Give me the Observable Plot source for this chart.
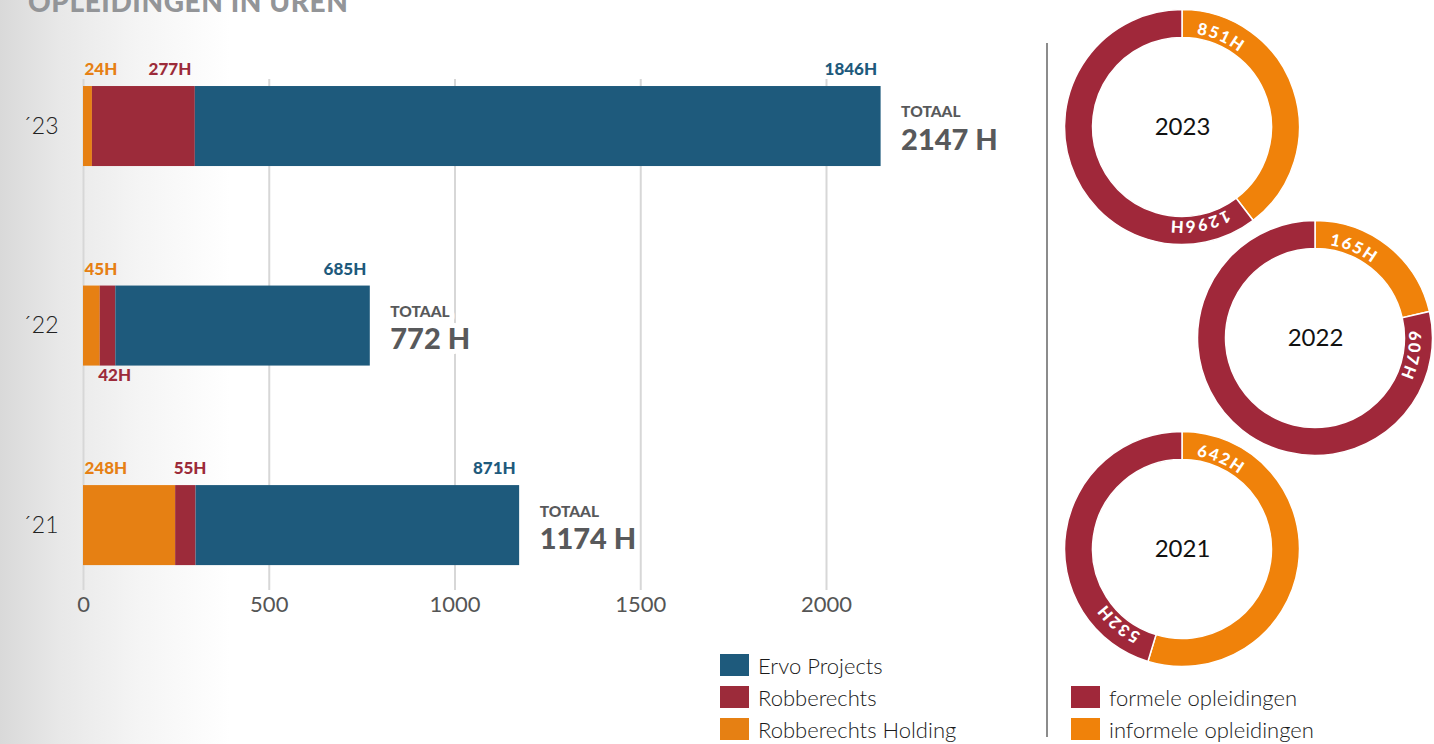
<!DOCTYPE html>
<html>
<head>
<meta charset="utf-8">
<script src="https://cdn.jsdelivr.net/npm/d3@7"></script>
<script src="https://cdn.jsdelivr.net/npm/@observablehq/plot@0.6"></script>
<style>
html, body { margin: 0; padding: 0; }
body {
  width: 1434px; height: 744px; overflow: hidden; position: relative;
  background: linear-gradient(to right, #d9d9d9 0px, #e8e8e8 60px, #f5f5f5 140px, #ffffff 230px);
  font-family: Lato, sans-serif;
}
#title { position: absolute; left: 28px; top: -13px; font: 900 28px/28px Lato, sans-serif; color: #939598; letter-spacing: 0.6px; white-space: nowrap; }
#bars { position: absolute; left: 0; top: 0; }
#donuts { position: absolute; left: 1050px; top: 0; }
#sep { position: absolute; left: 1046px; top: 43px; width: 2px; height: 694px; background: #8c8c8c; }
.legend { position: absolute; font: 300 22px Lato, sans-serif; color: #1a1a1a; }
.legend .row { display: flex; align-items: center; height: 32px; white-space: nowrap; }
.legend .sw { width: 29px; height: 22px; margin-right: 9px; flex: none; }
g[aria-label="value labels"] text { letter-spacing: 1px; }
g[aria-label="totaal"] text { letter-spacing: 0.4px; }
g[aria-label="x-axis tick label"] text { font-weight: 400; }
g[aria-label="y-axis tick label"] text { font-weight: 300; }
</style>
</head>
<body>
<div id="title">OPLEIDINGEN IN UREN</div>
<div id="bars"></div>
<div id="sep"></div>
<div id="donuts"></div>
<div class="legend" id="legendLeft" style="left:720px; top:649px;"></div>
<div class="legend" id="legendRight" style="left:1071px; top:681px;"></div>
<script>
// ---------- data ----------
const years = ["´23", "´22", "´21"];
const donutYears = [2023, 2022, 2021];
const series = ["Ervo Projects", "Robberechts", "Robberechts Holding"];
const barColors = ["#1e5a7c", "#9c2b3a", "#e68013"];
const ervo = [1846, 685, 871];
const robberechts = [277, 42, 55];
const holding = [24, 45, 248];
const totals = [2147, 772, 1174];
const xTicks = [0, 500, 1000, 1500, 2000];

const trainingTypes = ["formele opleidingen", "informele opleidingen"];
const donutColors = ["#a0283a", "#f0820a"];
const formele = [1296, 607, 532];
const informele = [851, 165, 642];

// ---------- bar chart ----------
const rows = [];
years.forEach((y, i) => {
  rows.push({year: y, series: series[2], value: holding[i]});
  rows.push({year: y, series: series[1], value: robberechts[i]});
  rows.push({year: y, series: series[0], value: ervo[i]});
});
const perYear = years.map((y, i) => ({
  year: y, holding: holding[i], robb: robberechts[i], ervo: ervo[i], total: totals[i]
}));
const redEnd = perYear.filter(d => d.robb >= 100);
const redStart = perYear.filter(d => d.robb < 100 && d.holding >= 100);
const redBelow = perYear.filter(d => d.robb < 100 && d.holding < 100);

const lbl = {fontSize: 17, fontWeight: 900, fontFamily: "Lato, sans-serif", ariaLabel: "value labels"};

const barPlot = Plot.plot({
  width: 1040, height: 640,
  marginLeft: 83, marginRight: 65.4, marginTop: 79, marginBottom: 50,
  style: {background: "transparent", fontFamily: "Lato, sans-serif", overflow: "visible"},
  x: {domain: [0, 2400]},
  y: {domain: years, paddingInner: 0.599, paddingOuter: 0.08, align: 0.22, round: false},
  color: {domain: series, range: barColors},
  marks: [
    Plot.gridX(xTicks, {stroke: "#d7d7d7", strokeWidth: 2, strokeOpacity: 1}),
    Plot.axisX(xTicks, {tickSize: 0, tickPadding: 6, fontSize: 22, color: "#555", label: null, tickFormat: d => String(d)}),
    Plot.axisY({tickSize: 0, tickPadding: 25, fontSize: 23, color: "#222", label: null}),
    Plot.barX(rows, Plot.stackX({x: "value", y: "year", fill: "series"})),
    // orange labels
    Plot.text(perYear, {x: () => 0, y: "year", text: d => `${d.holding}H`, textAnchor: "start", dx: 1, dy: -57, fill: barColors[2], ...lbl}),
    // red labels
    Plot.text(redEnd, {x: d => d.holding + d.robb, y: "year", text: d => `${d.robb}H`, textAnchor: "end", dx: -4, dy: -57, fill: barColors[1], ...lbl}),
    Plot.text(redStart, {x: "holding", y: "year", text: d => `${d.robb}H`, textAnchor: "start", dx: -2, dy: -57, fill: barColors[1], ...lbl}),
    Plot.text(redBelow, {x: "holding", y: "year", text: d => `${d.robb}H`, textAnchor: "start", dx: -2, dy: 49, fill: barColors[1], ...lbl}),
    // blue labels
    Plot.text(perYear, {x: "total", y: "year", text: d => `${d.ervo}H`, textAnchor: "end", dx: -4, dy: -57, fill: barColors[0], ...lbl}),
    // totals
    Plot.text(perYear, {x: "total", y: "year", text: () => "TOTAAL", textAnchor: "start", dx: 20, dy: -14, fontSize: 15.5, fontWeight: 900, fill: "#58595b", stroke: "white", strokeWidth: 10, ariaLabel: "totaal"}),
    Plot.text(perYear, {x: "total", y: "year", text: d => `${d.total} H`, textAnchor: "start", dx: 20, dy: 14, fontSize: 29, fontWeight: 900, fill: "#58595b", stroke: "white", strokeWidth: 10, ariaLabel: "totaal"})
  ]
});
document.getElementById("bars").appendChild(barPlot);

// ---------- donuts ----------
const donutRows = donutYears.map((y, i) => ({year: y, col: i % 2, formele: formele[i], informele: informele[i]}));
const donutColor = d3.scaleOrdinal(trainingTypes, donutColors);
const R_OUT = 117.5, R_IN = 89.5, R_TXT = 94;

function donutMark(index, scales) {
  const g = d3.create("svg:g");
  const pie = d3.pie().sort(null).value(d => d.value);
  const arc = d3.arc().innerRadius(R_IN).outerRadius(R_OUT);
  donutRows.forEach((d, i) => {
    const cx = scales.x(d.col), cy = scales.y(d.year);
    const slices = pie([
      {type: trainingTypes[1], value: d.informele},
      {type: trainingTypes[0], value: d.formele}
    ]);
    const gg = g.append("g").attr("transform", `translate(${cx},${cy})`);
    gg.selectAll("path.slice").data(slices).join("path")
      .attr("class", "slice")
      .attr("d", arc)
      .attr("fill", s => donutColor(s.data.type))
      .attr("stroke", "white")
      .attr("stroke-width", 1.5);
    slices.forEach((s, j) => {
      const id = `donut-lab-${i}-${j}`;
      const a0 = s.startAngle + 0.155;
      const a1 = a0 + 2.0;
      const p = (a) => [R_TXT * Math.sin(a), -R_TXT * Math.cos(a)];
      const [x0, y0] = p(a0), [x1, y1] = p(a1);
      gg.append("path").attr("id", id).attr("fill", "none")
        .attr("d", `M${x0},${y0} A${R_TXT},${R_TXT} 0 0 1 ${x1},${y1}`);
      gg.append("text")
        .attr("fill", "white")
        .attr("text-anchor", "start")
        .attr("font-family", "Lato, sans-serif")
        .attr("font-weight", 900)
        .attr("font-size", 16.5)
        .attr("letter-spacing", "1.6px")
        .append("textPath")
        .attr("href", `#${id}`)
        .attr("startOffset", 0)
        .text(`${s.data.value}H`);
    });
  });
  return g.node();
}

const donutPlot = Plot.plot({
  width: 384, height: 690,
  marginLeft: 132, marginRight: 119, marginTop: 126, marginBottom: 141,
  style: {background: "transparent", fontFamily: "Lato, sans-serif", overflow: "visible"},
  x: {type: "point", domain: [0, 1], padding: 0, axis: null},
  y: {type: "point", domain: donutYears, padding: 0, axis: null},
  marks: [
    donutMark,
    Plot.text(donutRows, {x: "col", y: "year", text: d => String(d.year), fontSize: 24, fontWeight: 400, fill: "#111"})
  ]
});
document.getElementById("donuts").appendChild(donutPlot);

// ---------- legends ----------
function buildLegend(el, names, colors) {
  names.forEach((n, i) => {
    const row = document.createElement("div");
    row.className = "row";
    const sw = document.createElement("div");
    sw.className = "sw";
    sw.style.background = colors[i];
    const t = document.createElement("span");
    t.textContent = n;
    row.appendChild(sw); row.appendChild(t);
    el.appendChild(row);
  });
}
buildLegend(document.getElementById("legendLeft"), series, barColors);
buildLegend(document.getElementById("legendRight"), trainingTypes, donutColors);
</script>
</body>
</html>
